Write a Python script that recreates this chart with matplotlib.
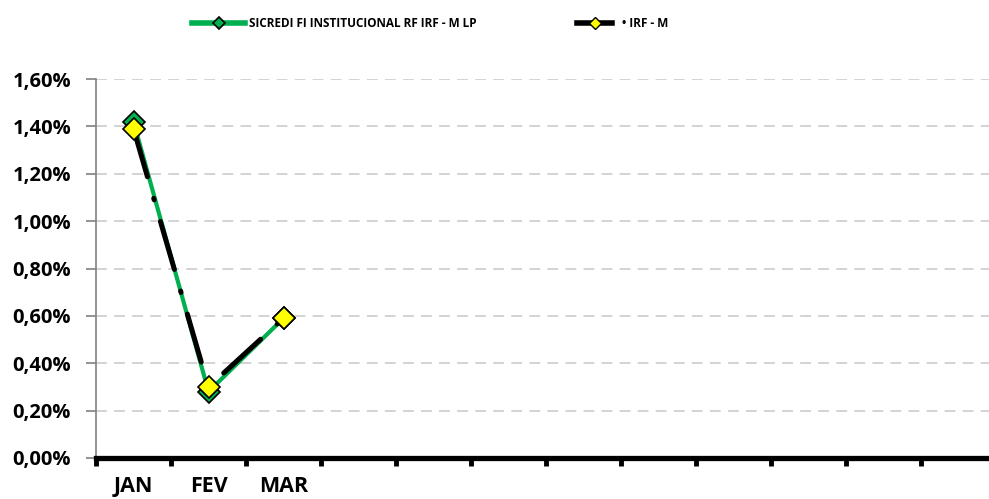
import matplotlib.pyplot as plt
from matplotlib.lines import Line2D
from matplotlib.ticker import FuncFormatter, FixedLocator

plt.rcParams['font.family'] = ['Open Sans', 'DejaVu Sans']
plt.rcParams['font.weight'] = 'bold'

# data
months = ['JAN', 'FEV', 'MAR', '', '', '', '', '', '', '', '', '']
sicredi = [1.42, 0.28, 0.59]
irfm = [1.39, 0.30, 0.59]
yticks = [0.0, 0.2, 0.4, 0.6, 0.8, 1.0, 1.2, 1.4, 1.6]

fig = plt.figure(figsize=(9.89, 4.99), dpi=100)
ax = fig.add_axes([96 / 989, 41 / 499, 900 / 989, 379 / 499])

pos = [i + 0.5 for i in range(len(months))]

ax.plot(pos[:len(sicredi)], sicredi, color='#00b050', lw=3.0, marker='D', ms=11,
        mfc='#00b050', mec='black', mew=1.2, zorder=3, clip_on=False)
ax.plot(pos[:len(irfm)], irfm, color='black', lw=3.6, ls=(0, (10, 4.5, 0.3, 4.5)),
        marker='D', ms=11, mfc='#ffff00', mec='black', mew=1.2, zorder=4,
        clip_on=False, dash_capstyle='round')

ax.set_xlim(0, len(months))
ax.set_ylim(0, 1.6)

for y in yticks[1:]:
    ax.axhline(y, color='#d0d0d0', lw=1.3, ls=(0, (6, 4)), zorder=1)

ax.yaxis.set_major_locator(FixedLocator(yticks))
ax.yaxis.set_major_formatter(FuncFormatter(lambda v, p: ('%.2f%%' % v).replace('.', ',')))
ax.tick_params(axis='y', direction='out', length=7, width=1.2, color='#808080',
               labelsize=14.5, pad=11)

ax.xaxis.set_major_locator(FixedLocator(range(len(months) + 1)))
ax.xaxis.set_minor_locator(FixedLocator(pos))
ax.set_xticklabels([''] * (len(months) + 1))
ax.set_xticklabels(months, minor=True)
ax.tick_params(axis='x', which='major', direction='out', length=6, width=3.5, color='black')
ax.tick_params(axis='x', which='minor', length=0, labelsize=15.5, pad=13)

for s in ['top', 'right']:
    ax.spines[s].set_visible(False)
ax.spines['left'].set_color('#808080')
ax.spines['left'].set_linewidth(1.2)
ax.spines['bottom'].set_color('black')
ax.spines['bottom'].set_linewidth(3.8)
ax.spines['bottom'].set_zorder(5)

h1 = Line2D([], [], color='#00b050', lw=4, marker='D', ms=6, mfc='#00b050', mec='black', mew=1.2)
h2 = Line2D([], [], color='black', lw=4, marker='D', ms=6, mfc='#ffff00', mec='black', mew=1.0)
leg1 = fig.legend([h1], ['SICREDI FI INSTITUCIONAL RF IRF - M LP'],
                  loc='center left', bbox_to_anchor=(192 / 989, 0.952), frameon=False,
                  fontsize=8.5, handlelength=4.5, handletextpad=0.3,
                  borderpad=0, borderaxespad=0)
fig.legend([h2], ['\u2022 IRF - M'],
           loc='center left', bbox_to_anchor=(577 / 989, 0.952), frameon=False,
           fontsize=8.5, handlelength=3.0, handletextpad=0.8,
           borderpad=0, borderaxespad=0)

fig.savefig('out.png', dpi=100)
